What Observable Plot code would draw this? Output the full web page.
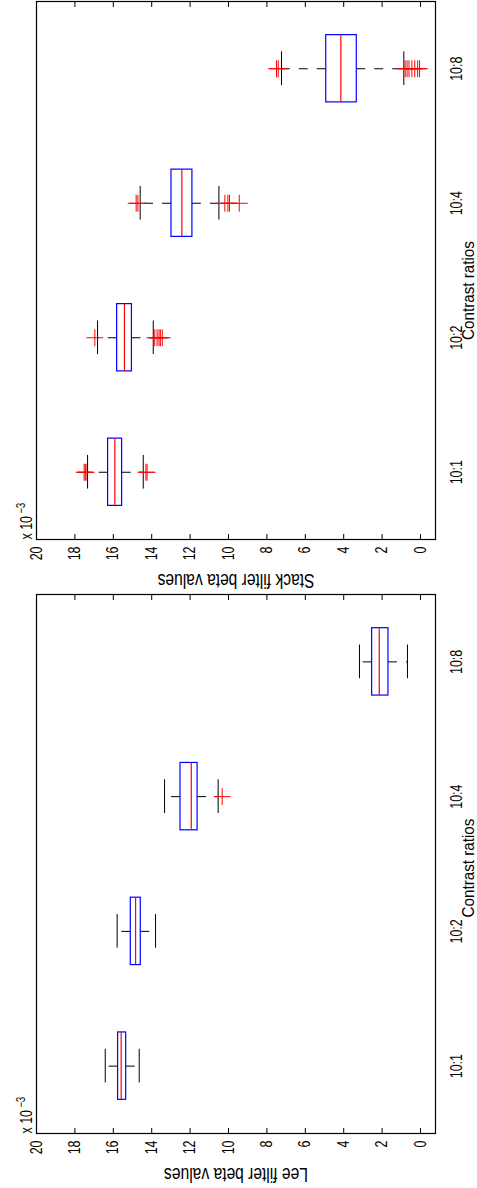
<!DOCTYPE html>
<html><head><meta charset="utf-8">
<script src="https://cdn.jsdelivr.net/npm/d3@7"></script>
<script src="https://cdn.jsdelivr.net/npm/@observablehq/plot@0.6"></script>
<style>
body{margin:0;background:#fff}
#chart{width:477px;height:1188px;overflow:hidden}
#chart svg{display:block}
</style>
</head><body><div id="chart"></div>
<script>
// Categories (contrast ratios) and value ticks (x 10^-3)
const categories = ["10:1", "10:2", "10:4", "10:8"];
const valueTicks = [0, 2, 4, 6, 8, 10, 12, 14, 16, 18, 20];

// Stack filter beta values (x 10^-3)
const stackQ1  = [15.54, 15.03, 11.88, 3.32];
const stackMed = [15.92, 15.42, 12.43, 4.15];
const stackQ3  = [16.27, 15.80, 12.97, 4.91];
const stackLo  = [14.44, 13.92, 10.50, 0.87];
const stackHi  = [17.34, 16.82, 14.60, 7.24];
const stackOut = [
  [17.52, 17.46, 17.42, 14.30, 14.24],
  [16.96, 13.84, 13.72, 13.62, 13.55, 13.45],
  [14.81, 14.72, 10.19, 10.03, 9.95, 9.44],
  [7.50, 7.41, 0.80, 0.70, 0.60, 0.45, 0.30, 0.15, 0.05]
];

// Lee filter beta values (x 10^-3)
const leeQ1  = [15.33, 14.57, 11.61, 1.67];
const leeMed = [15.59, 14.84, 11.94, 2.15];
const leeQ3  = [15.75, 15.09, 12.50, 2.52];
const leeLo  = [14.65, 13.80, 10.54, 0.68];
const leeHi  = [16.42, 15.80, 13.33, 3.18];
const leeOut = [[], [], [10.33], []];

const FONT = "'Liberation Sans', Arial, Helvetica, sans-serif";
const NARROW = 0.78; // condensed glyphs as in the reference
const XLABEL = "Contrast ratios";

function panel({title, q1, med, q3, lo, hi, out, height, marginTop, marginBottom, xlabelShift}) {
  const boxes = categories.map((c, i) => ({cat: c, pos: i + 1, q1: q1[i], med: med[i], q3: q3[i], lo: lo[i], hi: hi[i]}));
  const outliers = categories.flatMap((c, i) => out[i].map(v => ({cat: c, pos: i + 1, v})));
  const svg = Plot.plot({
    width: 477, height, marginTop, marginBottom, marginLeft: 36, marginRight: 42,
    style: {fontFamily: FONT, fontSize: "16px", color: "#000", background: "#fff", overflow: "visible"},
    x: {domain: [20, -0.78]},
    y: {domain: [0.5, 4.5], axis: null},
    marks: [
      Plot.axisX(valueTicks, {anchor: "bottom", tickSize: -5, tickFormat: () => "", label: null, stroke: "#000"}),
      Plot.axisX(valueTicks, {anchor: "top", tickSize: -5, tickFormat: () => "", label: null, stroke: "#000"}),
      Plot.text(valueTicks, {x: d => d, frameAnchor: "bottom", dy: 7, rotate: -90, textAnchor: "end", lineAnchor: "middle", fontSize: 16, fill: "#000"}),
      Plot.text(["x 10"], {frameAnchor: "bottom-left", dx: -5, rotate: -90, textAnchor: "start", lineAnchor: "bottom", fontSize: 16, fill: "#000"}),
      Plot.text(["\u22123"], {frameAnchor: "bottom-left", dx: -12, dy: -26, rotate: -90, textAnchor: "start", lineAnchor: "bottom", fontSize: 12, fill: "#000"}),
      Plot.text([title], {frameAnchor: "bottom", dy: 41, rotate: 180, textAnchor: "middle", lineAnchor: "middle", fontSize: 20, fill: "#000"}),
      Plot.text(boxes, {y: "pos", text: "cat", frameAnchor: "right", dx: 21, rotate: -90, textAnchor: "middle", lineAnchor: "middle", fontSize: 16, fill: "#000"}),
      Plot.text([XLABEL], {frameAnchor: "right", dx: 33, dy: xlabelShift, rotate: -90, textAnchor: "middle", lineAnchor: "middle", fontSize: 16, fill: "#000"}),
      // whiskers (dashed), drawn from box edge outwards
      Plot.ruleY(boxes, {y: "pos", x1: "q3", x2: "hi", stroke: "#000", strokeDasharray: "9,9"}),
      Plot.ruleY(boxes, {y: "pos", x1: "q1", x2: "lo", stroke: "#000", strokeDasharray: "9,9"}),
      // whisker caps
      Plot.ruleX(boxes, {x: "hi", y1: d => d.pos - 0.125, y2: d => d.pos + 0.125, stroke: "#000"}),
      Plot.ruleX(boxes, {x: "lo", y1: d => d.pos - 0.125, y2: d => d.pos + 0.125, stroke: "#000"}),
      // boxes
      Plot.rect(boxes, {x1: "q3", x2: "q1", y1: d => d.pos - 0.25, y2: d => d.pos + 0.25, fill: "#fff", stroke: "#0000ff", strokeWidth: 1.2}),
      // medians
      Plot.ruleX(boxes, {x: "med", y1: d => d.pos - 0.25, y2: d => d.pos + 0.25, stroke: "#ff0000", strokeWidth: 1.2}),
      // outliers
      Plot.dot(outliers, {x: "v", y: "pos", symbol: "plus", r: 5.5, stroke: "#ff0000", strokeWidth: 1}),
      Plot.frame({stroke: "#000", strokeWidth: 1.2})
    ]
  });
  // compress glyphs along the reading direction (condensed look of the reference)
  svg.querySelectorAll("text").forEach(t => {
    const tr = t.getAttribute("transform");
    const k = t.textContent === XLABEL ? 0.95 : NARROW;
    if (tr && /rotate/.test(tr)) t.setAttribute("transform", tr + ` scale(${k},1)`);
  });
  return svg;
}

const chart = document.getElementById("chart");
chart.append(panel({title: "Stack filter beta values", q1: stackQ1, med: stackMed, q3: stackQ3, lo: stackLo, hi: stackHi, out: stackOut, height: 593, marginTop: 1, marginBottom: 54, xlabelShift: 20}));
chart.append(panel({title: "Lee filter beta values", q1: leeQ1, med: leeMed, q3: leeQ3, lo: leeLo, hi: leeHi, out: leeOut, height: 595, marginTop: 1, marginBottom: 55, xlabelShift: 4}));
</script>
</body></html>
